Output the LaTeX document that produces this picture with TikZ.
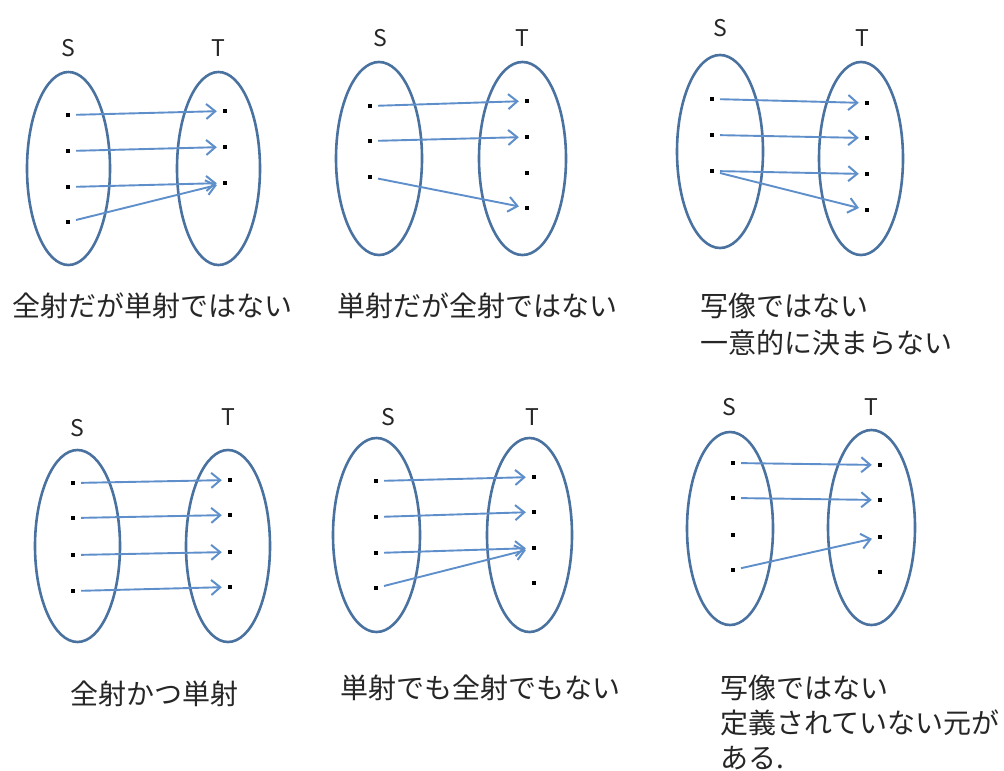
\documentclass[tikz,border=0pt]{standalone}
\usepackage{fontspec}
\newfontfamily\jp{Noto Sans CJK JP}
\usetikzlibrary{shapes.geometric,arrows.meta}
\definecolor{setblue}{HTML}{4A72A0}
\definecolor{arrblue}{HTML}{5E8FCB}
\tikzset{
  setbox/.style={ellipse, draw=setblue, line width=2.6pt, inner sep=0pt},
  setlabel/.style={font=\jp\fontsize{23}{26}\selectfont, text=black!85, inner sep=0pt},
  elem/.style={fill=black, minimum size=4pt, inner sep=0pt, rectangle},
  maparrow/.style={draw=arrblue, line width=1.9pt, -{Straight Barb[length=9pt,width=15pt,line width=2pt]}, shorten <=6pt, shorten >=6pt},
  caption/.style={font=\jp\fontsize{28}{36}\selectfont, text=black!85, inner sep=0pt, align=left, anchor=base west}
}
\begin{document}
\begin{tikzpicture}[x=1pt,y=-1pt]
\useasboundingbox (0,0) rectangle (1004,771);
% ---------- Panel 1
\node[setbox, minimum width=83pt, minimum height=193pt] (S1) at (68.5,168.5) {};
\node[setbox, minimum width=83pt, minimum height=193pt] (T1) at (218.5,168.5) {};
\node[setlabel] (S1l) at (68,48) {S};
\node[setlabel] (T1l) at (218,48) {T};
\node[elem] (s11) at (68,115) {};
\node[elem] (s12) at (68,151) {};
\node[elem] (s13) at (68,187) {};
\node[elem] (s14) at (68,222) {};
\node[elem] (t11) at (225,111) {};
\node[elem] (t12) at (225,147) {};
\node[elem] (t13) at (225,183) {};
\draw[maparrow] (s11) -- (t11);
\draw[maparrow] (s12) -- (t12);
\draw[maparrow] (s13) -- (t13);
\draw[maparrow] (s14) -- (t13);
\node[caption] (c1) at (12,316) {全射だが単射ではない};
% ---------- Panel 2
\node[setbox, minimum width=86pt, minimum height=193pt] (S2) at (379,158.5) {};
\node[setbox, minimum width=87pt, minimum height=193pt] (T2) at (522.5,158.5) {};
\node[setlabel] (S2l) at (380,38) {S};
\node[setlabel] (T2l) at (522,38) {T};
\node[elem] (s21) at (370,106) {};
\node[elem] (s22) at (370,141) {};
\node[elem] (s23) at (370,177) {};
\node[elem] (t21) at (527,101) {};
\node[elem] (t22) at (527,137) {};
\node[elem] (t23) at (527,173) {};
\node[elem] (t24) at (527,208) {};
\draw[maparrow] (s21) -- (t21);
\draw[maparrow] (s22) -- (t22);
\draw[maparrow] (s23) -- (t24);
\node[caption] (c2) at (337,316) {単射だが全射ではない};
% ---------- Panel 3
\node[setbox, minimum width=86pt, minimum height=193pt] (S3) at (720,151.5) {};
\node[setbox, minimum width=84pt, minimum height=193pt] (T3) at (861,158.5) {};
\node[setlabel] (S3l) at (720,28) {S};
\node[setlabel] (T3l) at (862,38) {T};
\node[elem] (s31) at (712,99) {};
\node[elem] (s32) at (712,135) {};
\node[elem] (s33) at (712,171) {};
\node[elem] (t31) at (867,103) {};
\node[elem] (t32) at (867,138) {};
\node[elem] (t33) at (867,174) {};
\node[elem] (t34) at (867,210) {};
\draw[maparrow] (s31) -- (t31);
\draw[maparrow] (s32) -- (t32);
\draw[maparrow] (s33) -- (t33);
\draw[maparrow] (s33) -- (t34);
\node[caption] (c3) at (700,353) {写像ではない\\[1pt]一意的に決まらない};
% ---------- Panel 4
\node[setbox, minimum width=85pt, minimum height=192pt] (S4) at (77.5,546) {};
\node[setbox, minimum width=84pt, minimum height=192pt] (T4) at (228,546) {};
\node[setlabel] (S4l) at (77,428) {S};
\node[setlabel] (T4l) at (228,417) {T};
\node[elem] (s41) at (73,483) {};
\node[elem] (s42) at (73,518) {};
\node[elem] (s43) at (73,555) {};
\node[elem] (s44) at (73,591) {};
\node[elem] (t41) at (230,480) {};
\node[elem] (t42) at (230,515) {};
\node[elem] (t43) at (230,552) {};
\node[elem] (t44) at (230,587) {};
\draw[maparrow] (s41) -- (t41);
\draw[maparrow] (s42) -- (t42);
\draw[maparrow] (s43) -- (t43);
\draw[maparrow] (s44) -- (t44);
\node[caption] (c4) at (70,704) {全射かつ単射};
% ---------- Panel 5
\node[setbox, minimum width=87pt, minimum height=194pt] (S5) at (376.5,535) {};
\node[setbox, minimum width=85pt, minimum height=194pt] (T5) at (529.5,535) {};
\node[setlabel] (S5l) at (388,417) {S};
\node[setlabel] (T5l) at (532,417) {T};
\node[elem] (s51) at (376,481) {};
\node[elem] (s52) at (376,517) {};
\node[elem] (s53) at (376,553) {};
\node[elem] (s54) at (376,588) {};
\node[elem] (t51) at (534,477) {};
\node[elem] (t52) at (534,512) {};
\node[elem] (t53) at (534,548) {};
\node[elem] (t54) at (534,583) {};
\draw[maparrow] (s51) -- (t51);
\draw[maparrow] (s52) -- (t52);
\draw[maparrow] (s53) -- (t53);
\draw[maparrow] (s54) -- (t53);
\node[caption] (c5) at (340,698) {単射でも全射でもない};
% ---------- Panel 6
\node[setbox, minimum width=86pt, minimum height=193pt] (S6) at (730,528.5) {};
\node[setbox, minimum width=87pt, minimum height=195pt] (T6) at (871.5,527.5) {};
\node[setlabel] (S6l) at (729,407) {S};
\node[setlabel] (T6l) at (871,407) {T};
\node[elem] (s61) at (733,463) {};
\node[elem] (s62) at (733,498) {};
\node[elem] (s63) at (733,535) {};
\node[elem] (s64) at (733,570) {};
\node[elem] (t61) at (880,465) {};
\node[elem] (t62) at (880,500) {};
\node[elem] (t63) at (880,537) {};
\node[elem] (t64) at (880,572) {};
\draw[maparrow] (s61) -- (t61);
\draw[maparrow] (s62) -- (t62);
\draw[maparrow] (s64) -- (t63);
\node[caption] (c6) at (720,768) {写像ではない\\[-1pt]定義されていない元が\\[-1pt]ある.};
\end{tikzpicture}
\end{document}
